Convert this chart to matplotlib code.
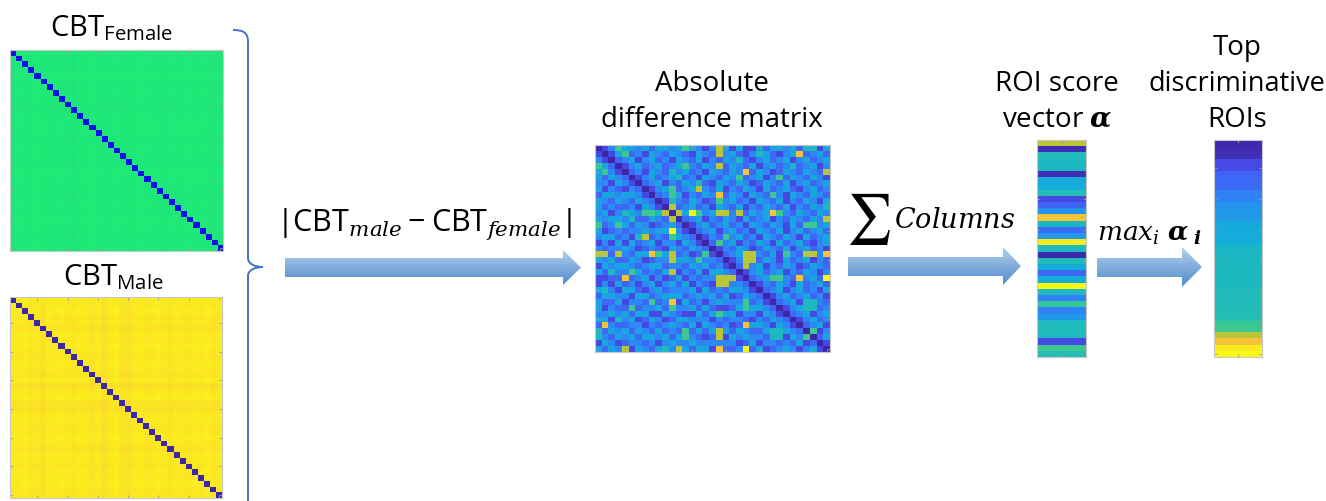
import numpy as np
import matplotlib
matplotlib.use("Agg")
import matplotlib.pyplot as plt
from matplotlib.colors import LinearSegmentedColormap, to_rgb
from matplotlib.patches import Polygon, PathPatch
from matplotlib.path import Path

plt.rcParams.update({
    "mathtext.fontset": "custom",
    "mathtext.rm": "Open Sans",
    "mathtext.it": "DejaVu Serif:italic",
    "mathtext.bf": "DejaVu Serif:bold",
    "mathtext.bfit": "DejaVu Serif:italic:bold",
    "font.family": ["Open Sans", "DejaVu Sans"],
})

W, H = 1326, 501
N_ROI = 35

# Per-ROI connectivity level of the two population templates (off-diagonal)
female_tone = [0.90, 0.91, 0.89, 0.90, 0.92, 0.90, 0.89, 0.91, 0.90, 0.90,
               0.88, 0.91, 0.90, 0.92, 0.90, 0.89, 0.90, 0.91, 0.90, 0.89,
               0.90, 0.92, 0.91, 0.90, 0.90, 0.89, 0.91, 0.90, 0.90, 0.92,
               0.90, 0.91, 0.89, 0.90, 0.90]
male_tone = [0.96, 0.95, 0.97, 0.94, 0.95, 0.92, 0.96, 0.95, 0.97, 0.95,
             0.94, 0.96, 0.95, 0.93, 0.96, 0.91, 0.95, 0.97, 0.93, 0.92,
             0.95, 0.96, 0.94, 0.95, 0.97, 0.95, 0.93, 0.96, 0.95, 0.94,
             0.96, 0.95, 0.97, 0.94, 0.95]

# Upper triangle of |CBT_male - CBT_female|, row r starts at column r.
# Digits are quantised levels, see diff_level_values.
diff_upper = [
    "01364434244346431374141142443425514",
    "0146231432432143273421354213482342",
    "023413423143241324352134234134234",
    "01342342346324372432413423523413",
    "0231432534231432438243124324327",
    "013423452314324362341362432431",
    "02341324352143243124324134234",
    "0134623473241324314234213423",
    "023641324382431432631432432",
    "01532431263423143241324314",
    "0723423143241324324132435",
    "074963477372434863243243",
    "02341324314234132432437",
    "0134234231432431426634",
    "023413423143241342342",
    "01326342314324314234",
    "0263413243142342134",
    "013243124324134231",
    "02347732416327738",
    "0137724314234132",
    "027341324312432",
    "01342341324313",
    "0234663283429",
    "013243142342",
    "02341342314",
    "0134234231",
    "023415532",
    "01345523",
    "0234134",
    "013423",
    "02341",
    "0613",
    "024",
    "01",
    "0",
]
diff_level_values = [0.0, 0.11, 0.2, 0.29, 0.39, 0.48, 0.58, 0.74, 0.84, 1.0]

# ROI score vector alpha (column sums, normalised)
roi_score = [0.74, 0.02, 0.49, 0.48, 0.47, 0.03, 0.40, 0.41, 0.50, 0.11,
             0.19, 0.33, 0.84, 0.46, 0.21, 0.34, 0.96, 0.48, 0.01, 0.49,
             0.41, 0.20, 0.42, 1.00, 0.48, 0.27, 0.56, 0.28, 0.35, 0.48,
             0.49, 0.48, 0.12, 0.58, 0.50]

parula = LinearSegmentedColormap.from_list("parula", [
    (0.2422, 0.1504, 0.6603), (0.2810, 0.3228, 0.9579),
    (0.1786, 0.5289, 0.9682), (0.0689, 0.6948, 0.8394),
    (0.2161, 0.7843, 0.5923), (0.6720, 0.7793, 0.2227),
    (0.9970, 0.7659, 0.2199), (0.9769, 0.9839, 0.0805)])
blue_green = LinearSegmentedColormap.from_list(
    "blue_green", [(0.06, 0.06, 0.96), (0.13, 1.0, 0.42)])


def template_matrix(tone):
    t = np.asarray(tone)
    m = (t[:, None] + t[None, :]) / 2.0
    np.fill_diagonal(m, 0.0)
    return m


def difference_matrix():
    m = np.zeros((N_ROI, N_ROI))
    for r, row in enumerate(diff_upper):
        for k, ch in enumerate(row):
            c = r + k
            m[r, c] = m[c, r] = diff_level_values[int(ch)]
    return m


fig = plt.figure(figsize=(W / 100, H / 100), dpi=100)
fig.patch.set_facecolor("white")

canvas = fig.add_axes([0, 0, 1, 1])
canvas.set_xlim(0, W)
canvas.set_ylim(H, 0)
canvas.axis("off")


def px_axes(x0, y0, x1, y1):
    return fig.add_axes([x0 / W, 1 - y1 / H, (x1 - x0) / W, (y1 - y0) / H])


def style_axes(ax, nx, ny):
    ax.set_xticks(np.arange(4, nx, 5) if nx > 1 else [0])
    ax.set_yticks(np.arange(4, ny, 5))
    ax.tick_params(direction="in", length=2.5, width=0.6, color="#9a9a9a",
                   top=True, right=True, labelleft=False, labelbottom=False)
    for s in ax.spines.values():
        s.set_color("#c8c8c8")
        s.set_linewidth(0.8)


def show(ax, data, cmap):
    ax.imshow(data, cmap=cmap, vmin=0, vmax=1, aspect="auto",
              interpolation="nearest")
    style_axes(ax, data.shape[1], data.shape[0])


# Population templates
show(px_axes(10, 50, 223, 251), template_matrix(female_tone), blue_green)
show(px_axes(10, 297, 222, 498), template_matrix(male_tone), parula)

# Absolute difference, score vector and sorted scores
show(px_axes(595, 145, 830, 352), difference_matrix(), parula)
score = np.asarray(roi_score)
show(px_axes(1037, 140, 1086, 357), score[:, None], parula)
show(px_axes(1214, 140, 1262, 357), np.sort(score)[:, None], parula)

# Curly brace joining the two templates
brace = Path(
    [(233, 30), (244, 30), (248, 33), (248, 42),
     (248, 258), (248, 264), (255, 267), (263, 267),
     (255, 267), (248, 270), (248, 276),
     (248, 505)],
    [Path.MOVETO, Path.CURVE4, Path.CURVE4, Path.CURVE4,
     Path.LINETO, Path.CURVE4, Path.CURVE4, Path.CURVE4,
     Path.CURVE4, Path.CURVE4, Path.CURVE4,
     Path.LINETO])
canvas.add_patch(PathPatch(brace, fill=False, edgecolor="#4472c4", lw=1.4))

# Block arrows with a vertical blue gradient
top_c = np.array(to_rgb("#b3d0ee"))
bot_c = np.array(to_rgb("#4f8ccb"))
grad = np.linspace(0, 1, 64)[:, None, None]
grad_img = top_c * (1 - grad) + bot_c * grad
grad_img = np.repeat(grad_img, 2, axis=1)


def block_arrow(x0, xh, xtip, yb0, yb1, yh0, yh1):
    ym = (yh0 + yh1) / 2
    pts = [(x0, yb0), (xh, yb0), (xh, yh0), (xtip, ym), (xh, yh1),
           (xh, yb1), (x0, yb1)]
    poly = Polygon(pts, closed=True, facecolor="none", edgecolor="none")
    canvas.add_patch(poly)
    im = canvas.imshow(grad_img, extent=(x0, xtip, yh1, yh0), aspect="auto",
                       interpolation="bilinear", zorder=1)
    im.set_clip_path(poly)


block_arrow(285, 563, 581, 258, 277, 250, 285)
block_arrow(848, 1003, 1021, 257, 276, 247, 285)
block_arrow(1097, 1182, 1202, 258, 277, 247, 287)
canvas.set_xlim(0, W)
canvas.set_ylim(H, 0)

# Labels
txt = dict(color="black", va="baseline")
canvas.text(112, 36, r"$\mathrm{CBT}_{\mathrm{Female}}$", fontsize=21,
            ha="center", **txt)
canvas.text(113, 285, r"$\mathrm{CBT}_{\mathrm{Male}}$", fontsize=21,
            ha="center", **txt)
canvas.text(424, 231, r"$|\mathrm{CBT}_{male} - \mathrm{CBT}_{female}|$",
            fontsize=22, ha="center", **txt)
canvas.text(712, 91, "Absolute", fontsize=20, ha="center", **txt)
canvas.text(712, 127, "difference matrix", fontsize=20, ha="center", **txt)
canvas.text(846, 219, r"$\sum$", fontsize=36, ha="left", va="center",
            math_fontfamily="stix")
canvas.text(894, 228, r"$Columns$", fontsize=19.5, ha="left", **txt)
canvas.text(1057, 91, "ROI score", fontsize=20, ha="center", **txt)
canvas.text(1057, 127, r"vector $\mathbfit{\alpha}$", fontsize=20,
            ha="center", **txt)
canvas.text(1097, 241, r"$max_i\ \mathbfit{\alpha}_{\ \mathbfit{i}}$",
            fontsize=19, ha="left", **txt)
canvas.text(1237, 55, "Top", fontsize=20, ha="center", **txt)
canvas.text(1237, 91, "discriminative", fontsize=19.5, ha="center", **txt)
canvas.text(1237, 127, "ROIs", fontsize=20, ha="center", **txt)

fig.savefig("out.png", dpi=100, facecolor="white")
